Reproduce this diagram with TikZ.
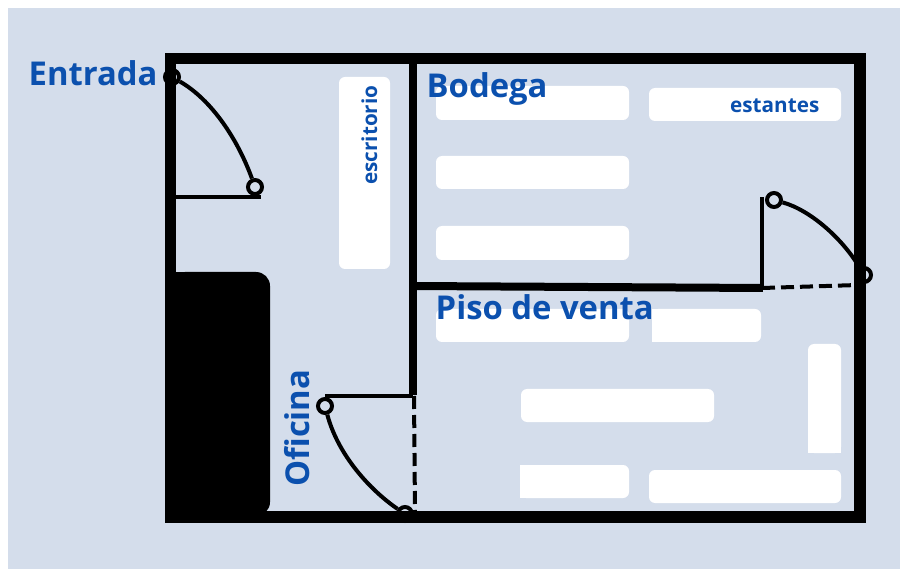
\documentclass[tikz,border=0pt]{standalone}
\usepackage{fontspec}
\setmainfont{Open Sans}
\definecolor{bgc}{HTML}{D4DDEB}
\definecolor{txt}{HTML}{0B50AE}
\tikzset{
 x=1pt,y=-1pt,
 wall/.style={draw=black,line width=11.5pt},
 inner/.style={draw=black,line width=8pt},
 leaf/.style={draw=black,line width=4pt},
 dsh/.style={draw=black,line width=4pt,dash pattern=on 13pt off 6pt},
 hinge/.style={circle,draw=black,line width=4pt,fill=bgc,minimum size=14pt,inner sep=0pt},
 shelf/.style={fill=white,rounded corners=6pt},
 big/.style={text=txt,font=\bfseries\fontsize{32.8}{38}\selectfont,inner sep=0pt},
 small/.style={text=txt,font=\bfseries\fontsize{20.7}{24}\selectfont,inner sep=0pt},
}
\begin{document}
\begin{tikzpicture}
\useasboundingbox (0,0) rectangle (900,569);
\fill[bgc] (8,8) rectangle (900,569);
% shelves
\fill[shelf] (436,86) rectangle (629,120);
\fill[shelf] (649,88) rectangle (841,121);
\fill[shelf] (436,156) rectangle (629,189);
\fill[shelf] (436,226) rectangle (629,260);
\fill[shelf] (339,77) rectangle (390,269);
\fill[shelf] (436,309) rectangle (629,342);
\fill[shelf] (652,309) rectangle (761,342);
\fill[white] (652,309) rectangle (670,342);
\fill[shelf] (808,344) rectangle (841,453);
\fill[white] (808,430) rectangle (841,453);
\fill[shelf] (521,389) rectangle (714,422);
\fill[shelf] (520,465) rectangle (629,498);
\fill[white] (520,465) rectangle (540,498);
\fill[shelf] (649,470) rectangle (841,503);
% solid block
\fill[black,rounded corners=14pt] (171,272) rectangle (270,516);
\fill[black] (171,272) rectangle (200,516);
% dashed openings
\draw[dsh] (414,396) -- (415,512);
\draw[dsh] (762,288) -- (858,285);
% hinges behind the walls
\node[hinge] (h2) at (255,187) {};
\node[hinge] (h3) at (325,406) {};
\node[hinge] (h4) at (405,514) {};
\node[hinge] (h5) at (774,200) {};
\node[hinge] (h6) at (864,275) {};
% outer walls
\draw[wall] (170.5,58.5) rectangle (860,517);
\node[hinge,fill=none] (h1) at (172,77) {};
% inner walls
\draw[inner] (413,54) -- (413,395);
\draw[inner] (413,286) -- (763,288);
% leaves
\coordinate (w1) at (172,197);
\coordinate (w1e) at (261,197);
\coordinate (w2) at (413,396);
\coordinate (w2e) at (325,396);
\coordinate (w3) at (762,290);
\coordinate (w3e) at (762,197);
\draw[leaf] (w1) -- (w1e);
\draw[leaf] (w2) -- (w2e);
\draw[leaf] (w3) -- (w3e);
\draw[leaf] (h1) .. controls (212,100) and (238,140) .. (h2);
\draw[leaf] (h3) .. controls (338,455) and (370,490) .. (h4);
\draw[leaf] (h5) .. controls (810,210) and (842,238) .. (h6);
% labels
\node[big,anchor=base west] (entrada) at (28.5,85.5) {Entrada};
\node[big,anchor=base west] (bodega) at (426.5,98) {Bodega};
\node[big,anchor=base west] (piso) at (435.5,320) {Piso de venta};
\node[big,anchor=base west,rotate=90] (oficina) at (309,487) {Oficina};
\node[small,anchor=base west] (estantes) at (730,113) {estantes};
\node[small,anchor=base west,rotate=90] (escritorio) at (377,185) {escritorio};
\end{tikzpicture}
\end{document}
